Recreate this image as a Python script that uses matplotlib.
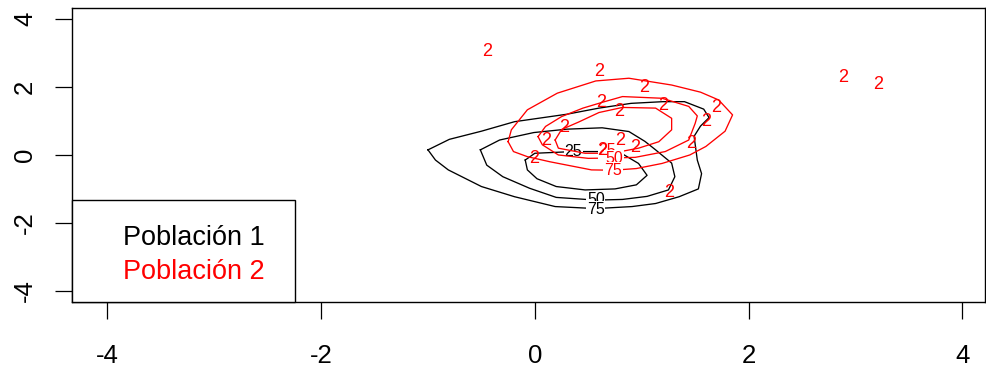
import matplotlib
matplotlib.use("Agg")
import matplotlib.pyplot as plt
from matplotlib.patches import Rectangle

plt.rcParams['font.family'] = ['Liberation Sans', 'DejaVu Sans']

# ---- data: density contour levels ----
levels = ["25", "50", "75"]

# Población 1 (black) contours
p1_25_x = [-0.09, 0.00, 0.36, 0.63, 0.82, 0.97, 1.05, 0.95, 0.75, 0.47, 0.20, 0.02, -0.07, -0.09]
p1_25_y = [-0.15, 0.05, 0.10, 0.10, 0.03, -0.25, -0.60, -0.88, -1.00, -1.03, -0.93, -0.70, -0.44, -0.15]
p1_50_x = [-0.51, -0.33, -0.01, 0.30, 0.63, 0.88, 1.03, 1.13, 1.28, 1.31, 1.25, 1.05, 0.82, 0.57, 0.20, -0.05, -0.30, -0.45, -0.51]
p1_50_y = [0.15, 0.44, 0.66, 0.76, 0.80, 0.69, 0.40, 0.15, -0.24, -0.64, -1.03, -1.22, -1.31, -1.33, -1.25, -0.98, -0.64, -0.30, 0.15]
p1_75_x = [-1.00, -0.80, -0.50, -0.19, 0.30, 0.60, 0.90, 1.20, 1.40, 1.58, 1.63, 1.55, 1.49, 1.52, 1.56, 1.53, 1.35, 1.13, 0.91, 0.57, 0.19, -0.19, -0.50, -0.81, -0.93, -1.00]
p1_75_y = [0.15, 0.46, 0.70, 0.98, 1.20, 1.38, 1.52, 1.57, 1.57, 1.35, 1.10, 0.85, 0.55, -0.15, -0.55, -1.00, -1.23, -1.43, -1.52, -1.58, -1.52, -1.23, -0.93, -0.44, -0.15, 0.15]

# Población 2 (red) contours
p2_25_x = [0.19, 0.25, 0.41, 0.60, 0.82, 1.13, 1.28, 1.28, 1.16, 0.97, 0.72, 0.47, 0.22, 0.19]
p2_25_y = [0.44, 0.75, 0.97, 1.25, 1.40, 1.38, 1.08, 0.74, 0.39, 0.20, 0.05, 0.05, 0.20, 0.44]
p2_50_x = [0.03, 0.10, 0.25, 0.45, 0.63, 0.82, 1.19, 1.44, 1.52, 1.50, 1.44, 1.22, 0.94, 0.72, 0.50, 0.22, 0.07, 0.03]
p2_50_y = [0.54, 0.84, 1.13, 1.38, 1.55, 1.72, 1.67, 1.43, 1.15, 0.93, 0.44, 0.10, -0.07, -0.09, -0.10, 0.00, 0.30, 0.54]
p2_75_x = [-0.25, -0.22, -0.07, 0.21, 0.57, 0.88, 1.28, 1.55, 1.72, 1.85, 1.78, 1.60, 1.45, 1.19, 0.95, 0.73, 0.53, 0.14, -0.07, -0.20, -0.25]
p2_75_y = [0.39, 0.74, 1.33, 1.82, 2.18, 2.26, 2.06, 1.85, 1.62, 1.18, 0.70, 0.25, 0.00, -0.25, -0.40, -0.45, -0.44, -0.20, -0.05, 0.10, 0.39]

# contour label positions
p1_label_x = [0.36, 0.57, 0.57]
p1_label_y = [0.10, -1.31, -1.60]
p2_label_x = [0.68, 0.74, 0.73]
p2_label_y = [0.12, -0.09, -0.45]

# Población 2 observations (drawn as "2")
p2_pts_x = [-0.45, 0.60, 1.02, 0.62, 0.79, 1.20, 1.70, 1.60, 0.27, 0.11, 0.80, 0.94, 1.46, -0.01, 0.63, 1.26, 2.88, 3.21]
p2_pts_y = [3.05, 2.46, 2.00, 1.55, 1.28, 1.47, 1.40, 0.98, 0.80, 0.44, 0.44, 0.22, 0.35, -0.10, 0.13, -1.11, 2.29, 2.09]
p2_symbol = "2"

legend_labels = ["Población 1", "Población 2"]
legend_colors = ["black", "red"]

ticks = [-4, -2, 0, 2, 4]

# ---- figure ----
W, H = 987, 371
fig = plt.figure(figsize=(W / 100, H / 100), dpi=100)
ax_l, ax_r, ax_t, ax_b = 72.3, 985.0, 8.3, 302.3
ax = fig.add_axes([ax_l / W, 1 - ax_b / H, (ax_r - ax_l) / W, (ax_b - ax_t) / H])
ax.set_xlim(-4.328, 4.212)
ax.set_ylim(-4.34, 4.32)

lw = 0.95
pop1 = [(p1_25_x, p1_25_y), (p1_50_x, p1_50_y), (p1_75_x, p1_75_y)]
pop2 = [(p2_25_x, p2_25_y), (p2_50_x, p2_50_y), (p2_75_x, p2_75_y)]

for (cx, cy) in pop1:
    ax.plot(cx, cy, color="black", lw=lw, zorder=2)
for lab, lx, ly in zip(levels, p1_label_x, p1_label_y):
    ax.text(lx, ly, lab, color="black", fontsize=11.5, ha="center", va="center", zorder=3,
            bbox=dict(boxstyle="square,pad=0.05", fc="white", ec="none"))

for (cx, cy) in pop2:
    ax.plot(cx, cy, color="red", lw=lw, zorder=4)
for lab, lx, ly in zip(levels, p2_label_x, p2_label_y):
    ax.text(lx, ly, lab, color="red", fontsize=11.5, ha="center", va="center", zorder=5,
            bbox=dict(boxstyle="square,pad=0.05", fc="white", ec="none"))

for px, py in zip(p2_pts_x, p2_pts_y):
    ax.text(px, py, p2_symbol, color="red", fontsize=13, ha="center", va="center", zorder=6)

# axes styling (R base style)
for s in ax.spines.values():
    s.set_linewidth(1.0)
ax.set_xticks(ticks)
ax.set_yticks(ticks)
ax.set_xticklabels([str(t) for t in ticks])
ax.set_yticklabels([str(t) for t in ticks], rotation=90, va="center")
ax.tick_params(axis="both", direction="out", length=12.3, width=0.9, labelsize=18.5)
ax.tick_params(axis="x", pad=17.5)
ax.tick_params(axis="y", pad=13)

# legend box (bottom-left)
leg_w = (295 - ax_l) / (ax_r - ax_l)
leg_h = (ax_b - 199.7) / (ax_b - ax_t)
ax.add_patch(Rectangle((0, 0), leg_w, leg_h, transform=ax.transAxes, fill=True,
                       fc="white", ec="black", lw=1.0, zorder=7, clip_on=False))
txt_x = (123 - ax_l) / (ax_r - ax_l)
for lab, col, yy in zip(legend_labels, legend_colors, [238, 272]):
    ax.text(txt_x, (ax_b - yy) / (ax_b - ax_t), lab, color=col, fontsize=19.5,
            ha="left", va="center", transform=ax.transAxes, zorder=8)

fig.savefig("out.png", dpi=100)
